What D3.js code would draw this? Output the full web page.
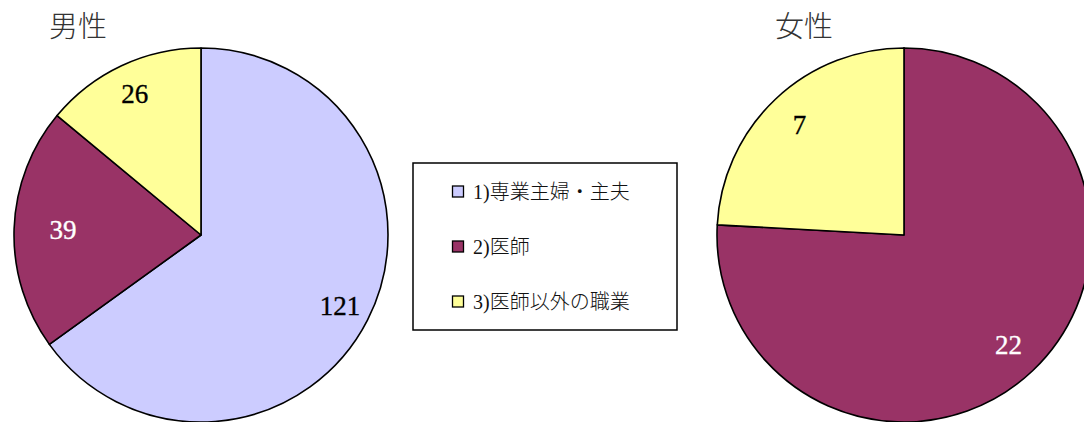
<!DOCTYPE html>
<html><head><meta charset="utf-8">
<script src="https://cdn.jsdelivr.net/npm/d3@7"></script>
<style>body{margin:0;background:#fff}svg{display:block}</style>
</head><body>
<svg id="c" width="1084" height="422"></svg>
<script>
const categories = ["1)専業主婦・主夫", "2)医師", "3)医師以外の職業"];
const maleValues = [121, 39, 26];
const femaleValues = [0, 22, 7];
const titles = ["男性", "女性"];
const colors = ["#CCCCFF", "#993366", "#FFFF99"];
const labelColors = ["#000", "#fff", "#000"];

const svg = d3.select("#c");
const R = 187;
const pie = d3.pie().sort(null).value(d => d);
const arc = d3.arc().innerRadius(0).outerRadius(R);

function drawPie(values, cx, cy, title, tx, labelR) {
  const g = svg.append("g").attr("transform", `translate(${cx},${cy})`);
  const arcs = pie(values);
  g.selectAll("path").data(arcs).join("path")
    .attr("d", arc)
    .attr("fill", (d, i) => colors[i])
    .attr("stroke", "#000").attr("stroke-width", 1.6).attr("stroke-linejoin", "round");
  g.selectAll("text").data(arcs.filter(d => d.value > 0)).join("text")
    .attr("transform", d => {
      const a = (d.startAngle + d.endAngle) / 2;
      const r = labelR(d);
      return `translate(${Math.sin(a) * r},${-Math.cos(a) * r})`;
    })
    .attr("text-anchor", "middle").attr("dominant-baseline", "central")
    .style("font-family", "'Liberation Serif', serif")
    .style("font-size", "27px")
    .attr("fill", d => labelColors[d.index])
    .attr("stroke", d => labelColors[d.index]).attr("stroke-width", 0.35)
    .text(d => d.value);
  svg.append("text").attr("x", tx).attr("y", 37)
    .style("font-family", "'Noto Sans CJK JP', sans-serif").style("font-size", "29px")
    .style("font-weight", 300)
    .attr("fill", "#333").text(title);
}

drawPie(maleValues, 201, 235, titles[0], 49, d => d.index === 1 ? 138 : 156);
drawPie(femaleValues, 904, 235, titles[1], 775, d => 152);

// legend
const lg = svg.append("g");
lg.append("rect").attr("x", 413).attr("y", 163).attr("width", 264).attr("height", 167)
  .attr("fill", "#fff").attr("stroke", "#000").attr("stroke-width", 1.5);
const ly = d3.scalePoint().domain(categories).range([192, 302]);
categories.forEach((c, i) => {
  lg.append("rect").attr("x", 452.5).attr("y", ly(c) - 6).attr("width", 11).attr("height", 11)
    .attr("fill", colors[i]).attr("stroke", "#000").attr("stroke-width", 1.3);
  lg.append("text").attr("x", 473).attr("y", ly(c)).attr("dominant-baseline", "central")
    .style("font-family", "'Liberation Serif', 'Noto Sans CJK JP', serif").style("font-size", "20px")
    .style("font-weight", 300)
    .attr("fill", "#111").text(c);
});
</script>
</body></html>
